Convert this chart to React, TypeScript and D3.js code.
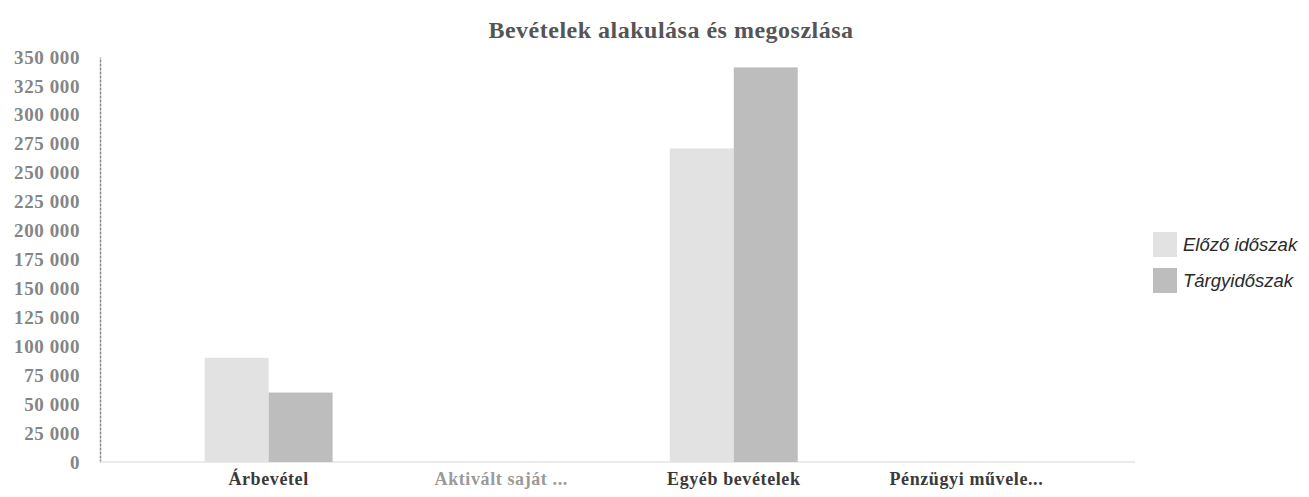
import { useEffect, useRef } from "react";
import * as d3 from "d3";

const WIDTH = 1309;
const HEIGHT = 497;
const MARGIN = { top: 57, right: 174, bottom: 35, left: 100 };

const categories = ["Árbevétel", "Aktivált saját ...", "Egyéb bevételek", "Pénzügyi művele..."];
const seriesNames = ["Előző időszak", "Tárgyidőszak"];
const previousValues = [90000, 0, 271000, 0];
const currentValues = [60000, 0, 341000, 0];
const yTicks = [0, 25000, 50000, 75000, 100000, 125000, 150000, 175000, 200000, 225000, 250000, 275000, 300000, 325000, 350000];

const COLORS = ["#e2e2e2", "#bdbdbd"];
const SERIF = "'Liberation Serif', 'DejaVu Serif', serif";

const fmt = (v: number) => d3.format(",")(v).replace(/,/g, " ");

export default function App() {
  const ref = useRef<SVGSVGElement>(null);

  useEffect(() => {
    const svg = d3.select(ref.current);
    svg.selectAll("*").remove();

    const innerW = WIDTH - MARGIN.left - MARGIN.right;
    const innerH = HEIGHT - MARGIN.top - MARGIN.bottom;

    const x = d3.scaleBand().domain(categories).range([0, innerW]).paddingInner(0.45).paddingOuter(0.45);
    const xSub = d3.scaleBand().domain(seriesNames).range([0, x.bandwidth()]);
    const y = d3.scaleLinear().domain([0, 350000]).range([innerH, 0]);

    // title
    svg
      .append("text")
      .attr("x", 671)
      .attr("y", 38)
      .attr("text-anchor", "middle")
      .attr("font-family", SERIF)
      .attr("font-weight", "bold")
      .attr("font-size", 24)
      .attr("letter-spacing", 0.5)
      .attr("fill", "#555")
      .text("Bevételek alakulása és megoszlása");

    const g = svg.append("g").attr("transform", `translate(${MARGIN.left},${MARGIN.top})`);

    // y axis
    const yAxis = g.append("g").call(d3.axisLeft(y).tickValues(yTicks).tickFormat((d) => fmt(+d)).tickSize(0).tickPadding(20));
    yAxis.select(".domain").attr("stroke", "#8a8a8a").attr("stroke-width", 1.5).attr("stroke-dasharray", "3,1");
    yAxis
      .selectAll("text")
      .attr("font-family", SERIF)
      .attr("font-weight", "bold")
      .attr("font-size", 19)
      .attr("letter-spacing", 0.6)
      .attr("fill", "#858585");

    // baseline
    g.append("line")
      .attr("x1", 0)
      .attr("x2", innerW)
      .attr("y1", y(0))
      .attr("y2", y(0))
      .attr("stroke", "#e4e4e4")
      .attr("stroke-width", 1.5);

    // bars
    const series = [previousValues, currentValues];
    series.forEach((values, si) => {
      g.append("g")
        .selectAll("rect")
        .data(values)
        .join("rect")
        .attr("x", (_, i) => (x(categories[i]) ?? 0) + (xSub(seriesNames[si]) ?? 0))
        .attr("y", (d) => y(d))
        .attr("width", xSub.bandwidth())
        .attr("height", (d) => innerH - y(d))
        .attr("fill", COLORS[si]);
    });

    // x axis labels
    const xAxis = g.append("g").attr("transform", `translate(0,${innerH})`).call(d3.axisBottom(x).tickSize(0).tickPadding(10));
    xAxis.select(".domain").remove();
    xAxis
      .selectAll("text")
      .attr("font-family", SERIF)
      .attr("font-weight", "bold")
      .attr("font-size", 18)
      .attr("letter-spacing", 0.6)
      .attr("fill", (_, i) => (i === 1 ? "#9a9a9a" : "#3a3a3a"));

    // legend
    const legend = svg.append("g").attr("transform", "translate(1153,232)");
    seriesNames.forEach((name, i) => {
      const row = legend.append("g").attr("transform", `translate(0,${i * 36})`);
      row.append("rect").attr("width", 24).attr("height", 25).attr("fill", COLORS[i]);
      row
        .append("text")
        .attr("x", 30)
        .attr("y", 19)
        .attr("font-family", "'Liberation Sans', Arial, sans-serif")
        .attr("font-style", "italic")
        .attr("font-size", 18.5)
        .attr("fill", "#2a2a2a")
        .text(name);
    });
  }, []);

  return <svg ref={ref} width={WIDTH} height={HEIGHT} style={{ display: "block", margin: "-8px", background: "#fff" }} />;
}
